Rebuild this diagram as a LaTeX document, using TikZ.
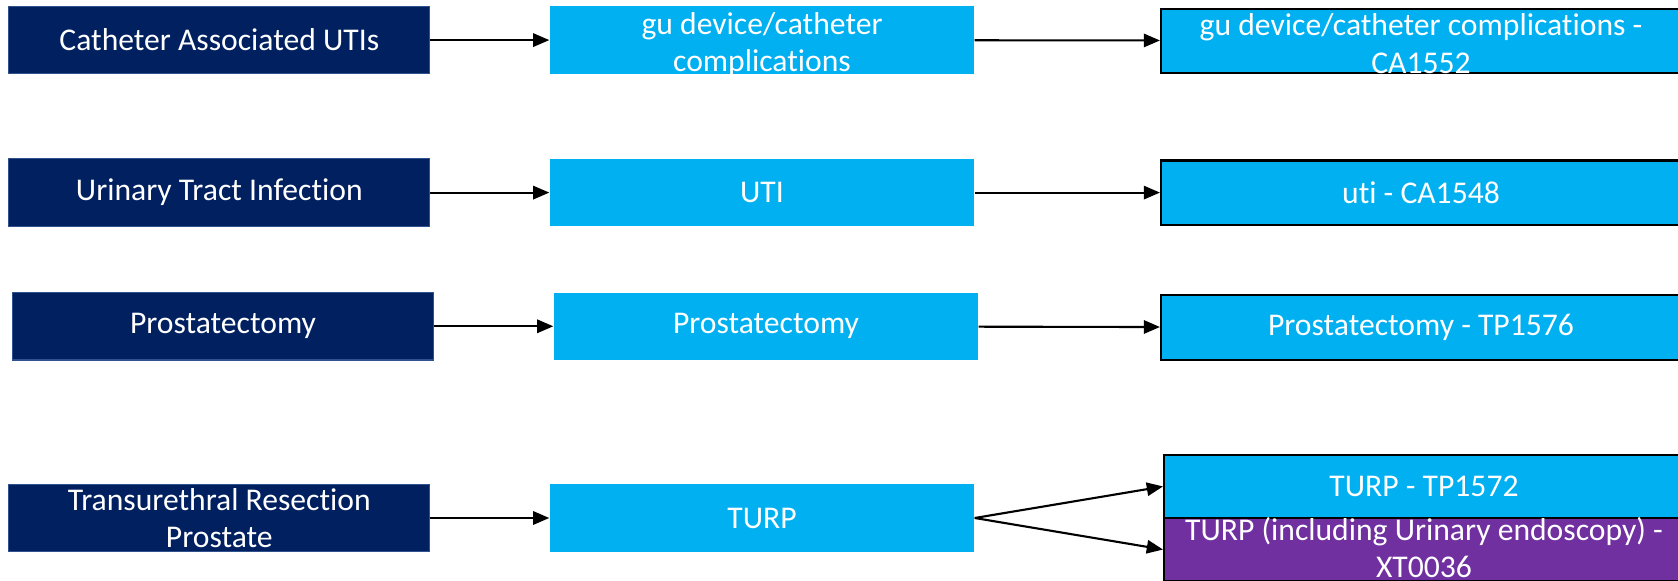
\documentclass[tikz,border=0pt]{standalone}
\usepackage{fontspec}
\setmainfont{Carlito}[Ligatures=NoCommon]
\usetikzlibrary{arrows.meta}

\definecolor{navy}{RGB}{0,32,96}
\definecolor{sky}{RGB}{0,176,240}
\definecolor{plum}{RGB}{112,48,160}
\definecolor{rim}{RGB}{47,82,143}

\begin{document}
\begin{tikzpicture}
  [every node/.style={inner sep=0pt, text=white, font=\fontsize{9}{10.7}\selectfont},
   srcbox/.style={rectangle, fill=navy, draw=rim, line width=0.3pt, minimum width=4.21cm, minimum height=0.674cm},
   midbox/.style={rectangle, fill=sky, minimum width=4.24cm, minimum height=0.674cm},
   codebox/.style={rectangle, fill=sky, draw=black, line width=0.6pt, minimum width=5.2cm, minimum height=0.642cm},
   twoline/.style={align=center},
   link/.style={-{Triangle[length=4.6pt,width=3.8pt]}, line width=0.6pt}]
  \useasboundingbox (0,0) rectangle (16.78,-5.81);

  \node[srcbox] (s1) at (2.193,-0.401) {Catheter Associated UTIs};
  \node[midbox, label={[twoline, yshift=-0.043cm]center:gu device/catheter\\complications}] (m1) at (7.62,-0.401) {};
  \node[codebox, label={[twoline, yshift=-0.027cm]center:gu device/catheter complications -\\CA1552}] (r1) at (14.21,-0.407) {};

  \node[srcbox] (s2) at (2.193,-1.926) {Urinary Tract Infection};
  \node[midbox] (m2) at (7.62,-1.926) {UTI};
  \node[codebox] (r2) at (14.21,-1.926) {uti - CA1548};

  \node[srcbox] (s3) at (2.23,-3.263) {Prostatectomy};
  \node[midbox] (m3) at (7.66,-3.263) {Prostatectomy};
  \node[codebox] (r3) at (14.21,-3.275) {Prostatectomy - TP1576};

  \node[srcbox, label={[twoline]center:Transurethral Resection\\Prostate}] (s4) at (2.193,-5.18) {};
  \node[midbox] (m4) at (7.62,-5.18) {TURP};
  \node[codebox, minimum height=0.63cm] (r4) at (14.24,-4.865) {TURP - TP1572};
  \node[codebox, fill=plum, minimum height=0.63cm, label={[twoline, yshift=0.02cm]center:TURP (including Urinary endoscopy) -\\XT0036}] (r5) at (14.24,-5.495) {};

  \foreach \from/\to in {s1/m1,m1/r1,s2/m2,m2/r2,s3/m3,m3/r3,s4/m4}
    \draw[link] (\from) -- (\to);
  \foreach \to in {r4,r5}
    \draw[link] (m4.east) -- (\to.west);
\end{tikzpicture}
\end{document}
